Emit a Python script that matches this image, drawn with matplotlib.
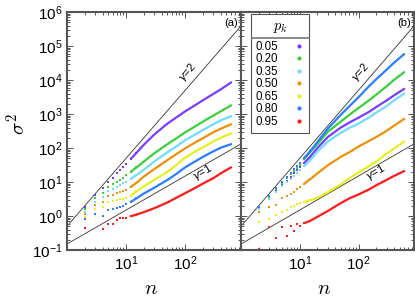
import numpy as np
import matplotlib
matplotlib.use("Agg")
import matplotlib.pyplot as plt
from matplotlib.ticker import FixedLocator, LogLocator, NullFormatter
from matplotlib.lines import Line2D

plt.rcParams['font.family'] = ['Liberation Sans', 'DejaVu Sans']

# system sizes n and variance sigma^2
n = [1, 2, 3, 4, 5, 6, 7, 8, 9, 10, 12, 15, 20, 30, 50, 70, 100, 150, 200, 300, 400, 600]
p_k = ["0.05", "0.20", "0.35", "0.50", "0.65", "0.80", "0.95"]
colors = ['#7a3cff', '#3ccf3c', '#70dcff', '#f0900a', '#e6f01e', '#2a7fff', '#ff1a1a']

var_a = [
    [0.5, 1.8, 4.2, 6.5, 10, 13.5, 18, 23, 28, 34, 48, 72, 125, 250, 520, 780, 1200, 1850, 2550, 3900, 5300, 8500],
    [0.5, 1.6, 3.5, 4.8, 7.2, 8.5, 10, 11.5, 13.5, 16, 20, 27, 40, 70, 130, 190, 290, 440, 600, 900, 1200, 1800],
    [0.5, 1.34, 2.6, 3.6, 5.4, 6.2, 7.2, 8.2, 9.2, 10, 12.5, 16, 23, 40, 75, 110, 170, 255, 340, 500, 650, 870],
    [0.5, 1.15, 2.1, 2.6, 3.9, 4.2, 4.6, 5.0, 5.4, 5.8, 7.2, 9.5, 14.5, 24, 44, 65, 98, 148, 195, 290, 370, 500],
    [0.5, 0.95, 1.6, 1.8, 2.6, 2.8, 3.0, 3.1, 3.2, 3.3, 4.0, 5.3, 7.5, 11.5, 20, 31, 52, 80, 105, 155, 200, 270],
    [0.5, 0.82, 1.12, 1.0, 1.5, 1.6, 1.7, 1.8, 2.0, 2.2, 2.6, 3.3, 4.6, 6.8, 11.5, 17, 27, 41, 55, 80, 102, 130],
    [0.5, 0.43, np.nan, 0.41, 0.58, 0.6, 0.75, 0.85, 0.88, 0.9, 0.98, 1.1, 1.3, 1.7, 2.5, 3.4, 4.7, 6.8, 9, 13, 18, 27],
]
var_b = [
    [0.5, 1.65, 3.4, 5.6, 8.3, 11, 14.5, 18, 22, 27, 37, 55, 100, 210, 400, 560, 780, 1150, 1600, 2500, 3500, 5500],
    [0.5, 1.7, 3.6, 6.2, 9.3, 13, 17, 21, 26, 32, 48, 75, 130, 300, 600, 950, 1500, 2500, 3700, 6500, 10000, 17000],
    [0.5, 1.6, 3.2, 5.1, 7.4, 9.8, 12.5, 15.5, 19, 23, 30, 44, 78, 155, 280, 390, 520, 780, 1100, 1700, 2500, 4000],
    [0.5, 1.35, 1.8, 2.1, 3.3, 3.8, 4.5, 5.2, 6.2, 7, 9, 12, 18, 31, 55, 75, 110, 160, 210, 320, 450, 720],
    [0.5, 0.68, 0.82, 1.07, 1.35, 1.5, 1.8, 2.0, 2.2, 2.4, 2.6, 2.9, 3.4, 5.0, 8.5, 13, 19, 29, 40, 68, 95, 155],
    [0.5, 1.8, 3.9, 6.6, 10, 14, 19, 24, 30, 37, 52, 80, 150, 370, 950, 1700, 3100, 6500, 10500, 20000, 32000, 58000],
    [0.5, 0.11, 0.47, 0.22, 0.49, 0.26, 0.51, 0.36, 0.58, 0.5, 0.62, 0.72, 0.95, 1.4, 2.4, 3.3, 4.3, 6.0, 8.0, 11.5, 15, 21],
]

# reference power laws sigma^2 = c * n^gamma
gammas = [2, 1]
coefs = [0.5, 0.15]

fig = plt.figure(figsize=(4.15, 2.99), dpi=100)
W, H = 415, 299
axa = fig.add_axes([67 / W, 1 - 250 / H, 174 / W, 238 / H])
axb = fig.add_axes([241 / W, 1 - 250 / H, 173 / W, 238 / H])

n = np.array(n)
ng = np.array([1.0, 1000.0])
for ax, data, tag in [(axa, var_a, "(a)"), (axb, var_b, "(b)")]:
    ax.set_xscale('log')
    ax.set_yscale('log')
    for g, c in zip(gammas, coefs):
        ax.plot(ng, c * ng ** g, color='#333333', lw=0.6, zorder=1)
    for vals, col in zip(data, colors):
        v = np.array(vals, dtype=float)
        ax.plot(n[:12], v[:12], 's', ms=2, mew=0, color=col, zorder=2)
        ax.plot(n[10:], v[10:], '-', lw=1.6, color=col, zorder=2, solid_capstyle='round')
    ax.set_xlim(1, 880)
    ax.set_ylim(0.1, 1e6)
    ax.xaxis.set_major_locator(FixedLocator([10, 100]))
    ax.xaxis.set_minor_locator(LogLocator(base=10, subs=np.arange(2, 10), numticks=20))
    ax.xaxis.set_minor_formatter(NullFormatter())
    ax.yaxis.set_major_locator(LogLocator(base=10, numticks=20))
    ax.yaxis.set_minor_locator(LogLocator(base=10, subs=np.arange(2, 10), numticks=20))
    ax.yaxis.set_minor_formatter(NullFormatter())
    ax.tick_params(which='both', direction='in', top=True, right=True, color='#555555', width=0.7)
    ax.tick_params(which='major', length=4, labelsize=11, pad=3)
    ax.tick_params(which='minor', length=2)
    for s in ax.spines.values():
        s.set_color('#555555')
        s.set_linewidth(1.5)
    ax.text(0.985, 0.975, tag, transform=ax.transAxes, ha='right', va='top', fontsize=8)
    ax.set_xlabel(r'$n$', fontsize=15, math_fontfamily='cm')
    ax.xaxis.set_label_coords(0.48, -0.12)
    ax.text(110, 17000, r'$\gamma$=2', rotation=49, ha='center', va='center', fontsize=8)
    ax.text(194, 19, r'$\gamma$=1', rotation=30, ha='center', va='center', fontsize=8)

axb.tick_params(axis='y', which='both', labelleft=False)
axa.set_ylabel(r'$\sigma^2$', fontsize=15, math_fontfamily='cm')
axa.yaxis.set_label_coords(-0.22, 0.53)

handles = [Line2D([], [], ls='none', marker='o', ms=3, mew=0, color=c) for c in colors]
leg = axb.legend(handles, p_k, title=r'$p_k$', loc='upper left', bbox_to_anchor=(0.058, 0.99),
                 borderaxespad=0, fontsize=8.3, markerfirst=False, handlelength=1.0,
                 handletextpad=1.3, labelspacing=0.05, borderpad=0.4, fancybox=False,
                 framealpha=1, edgecolor='#555555')
leg.get_title().set_fontsize(10.5)
leg.get_title().set_math_fontfamily('cm')
leg.get_frame().set_linewidth(0.8)
leg._legend_box.sep = 4  # room for the rule under the title

fig.canvas.draw()
bb = leg.get_window_extent()
tb = leg.get_title().get_window_extent()
first = leg.get_texts()[0].get_window_extent()
ysep = (tb.y0 + first.y1) / 2 + 1
for dy in (0, -1.5):
    fig.add_artist(Line2D([bb.x0 / W, bb.x1 / W], [(ysep + dy) / H, (ysep + dy) / H],
                          color='#777777', lw=0.6, transform=fig.transFigure))

fig.savefig('out.png', dpi=100)
